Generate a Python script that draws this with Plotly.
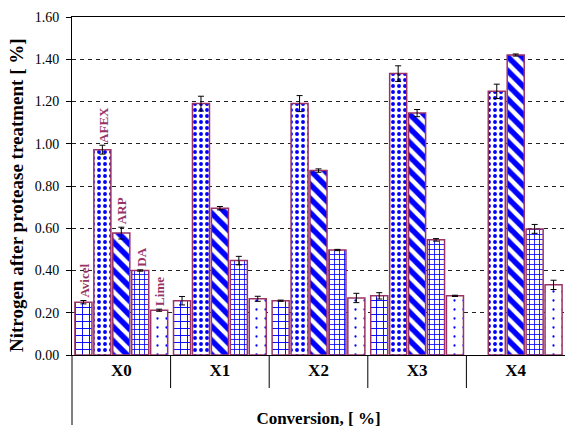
import plotly.graph_objects as go

categories = ["X0", "X1", "X2", "X3", "X4"]
series_names = ["Avicel", "AFEX", "ARP", "DA", "Lime"]

avicel = [0.25, 0.257, 0.257, 0.28, None]
afex = [0.972, 1.19, 1.19, 1.332, 1.248]
arp = [0.577, 0.695, 0.873, 1.145, 1.42]
da = [0.40, 0.447, 0.497, 0.545, 0.597]
lime = [0.212, 0.266, 0.27, 0.28, 0.332]

avicel_err = [0.008, 0.02, 0.003, 0.015, 0]
afex_err = [0.021, 0.035, 0.038, 0.037, 0.034]
arp_err = [0.028, 0.008, 0.008, 0.017, 0.005]
da_err = [0.003, 0.02, 0.003, 0.006, 0.021]
lime_err = [0.005, 0.012, 0.022, 0.003, 0.022]

values = [avicel, afex, arp, da, lime]
errors = [avicel_err, afex_err, arp_err, da_err, lime_err]

patterns = [
    dict(shape="+", size=7, solidity=0.25),
    dict(shape=".", size=6, solidity=0.33),
    dict(shape="\\", size=10, solidity=0.55),
    dict(shape="+", size=5, solidity=0.3),
    dict(shape=".", size=9, solidity=0.05),
]

FONT = "Liberation Serif"
EDGE = "#993366"
BLUE = "#0000FF"

# approximate Times-Bold advance widths (per 1000 em) for label placement
BOLD_W = {"A": 722, "v": 500, "i": 278, "c": 444, "e": 444, "l": 278, "F": 611,
          "E": 667, "X": 722, "R": 722, "P": 611, "D": 722, "L": 667, "m": 833}
LABEL_SIZE = 13

fig = go.Figure()
for name, vals, errs, pat in zip(series_names, values, errors, patterns):
    fig.add_trace(go.Bar(
        name=name, x=categories, y=vals,
        marker=dict(color="white",
                    line=dict(color=EDGE, width=1.5),
                    pattern=dict(fgcolor=BLUE, bgcolor="white", fgopacity=1, **pat)),
        error_y=dict(type="data", array=errs, visible=True,
                     color="black", thickness=1, width=3),
    ))

# plot geometry
L, R, T, B = 72, 0, 17, 73
W, H = 565, 428
plot_w = W - L - R
plot_h = H - T - B
group_px = plot_w / len(categories)
bargap = 0.04
slot_px = group_px * (1 - bargap) / len(series_names)

annotations = []
for i, (name, vals, errs) in enumerate(zip(series_names, values, errors)):
    text_len = sum(BOLD_W.get(ch, 500) for ch in name) / 1000 * LABEL_SIZE
    annotations.append(dict(
        x=categories[0], y=vals[0] + errs[0], xref="x", yref="y",
        text="<b>%s</b>" % name, showarrow=False, textangle=-90,
        xanchor="center", yanchor="middle",
        xshift=(i - (len(series_names) - 1) / 2) * slot_px + 1,
        yshift=text_len / 2 + 3,
        font=dict(family=FONT, size=LABEL_SIZE, color=EDGE),
    ))

# y axis title as a rotated annotation (slightly below the plot centre, as in the source)
annotations.append(dict(
    x=0, y=(H - B - 195) / plot_h, xref="paper", yref="paper",
    text="<b>Nitrogen after protease treatment [ %]</b>", showarrow=False,
    textangle=-90, xanchor="center", yanchor="middle", xshift=-(L - 16),
    font=dict(family=FONT, size=19, color="black"),
))

shapes = []
for k in range(len(categories) - 1):
    shapes.append(dict(type="line", xref="x", yref="paper",
                       x0=k + 0.5, x1=k + 0.5, y0=0, y1=-33 / plot_h,
                       line=dict(color="black", width=1)))
shapes.append(dict(type="line", xref="paper", yref="paper",
                   x0=0, x1=0, y0=0, y1=-70 / plot_h,
                   line=dict(color="black", width=1)))

fig.update_layout(
    width=W, height=H,
    margin=dict(l=L, r=R, t=T, b=B),
    paper_bgcolor="white", plot_bgcolor="white",
    barmode="group", bargap=bargap, bargroupgap=0.1,
    showlegend=False,
    font=dict(family=FONT, color="black"),
    annotations=annotations, shapes=shapes,
    xaxis=dict(
        type="category", range=[-0.5, len(categories) - 0.5],
        showline=True, linecolor="black", linewidth=1, mirror=True,
        ticks="", showgrid=False,
        tickfont=dict(family=FONT, size=17, color="black", weight="bold"),
        title=dict(text="<b>Conversion, [ %]</b>", standoff=33,
                   font=dict(family=FONT, size=17, color="black")),
        automargin=False,
    ),
    yaxis=dict(
        range=[0, 1.6], dtick=0.2, tickformat=".2f",
        showline=True, linecolor="black", linewidth=1,
        ticks="outside", ticklen=5, tickcolor="black",
        ticklabelstandoff=4,
        showgrid=True, gridcolor="#222222", gridwidth=1, griddash="4px,4px",
        zeroline=False,
        tickfont=dict(family=FONT, size=14, color="black"),
        automargin=False,
    ),
)

fig.write_html("out.html")
